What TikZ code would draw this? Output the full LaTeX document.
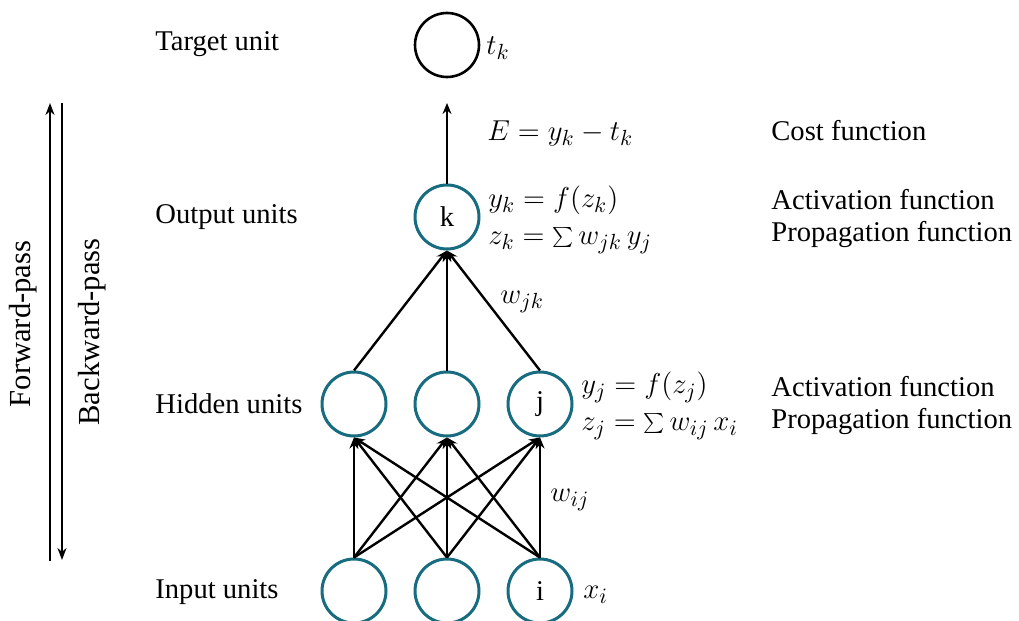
\documentclass[tikz,border=0pt]{standalone}
\usepackage{fontspec}
\setmainfont{Liberation Serif}
\usetikzlibrary{arrows.meta}
\definecolor{teal1}{RGB}{24,108,128}
\begin{document}
\begin{tikzpicture}[x=0.5pt,y=-0.5pt,
  font=\fontsize{14.3}{16}\selectfont,
  unit/.style={circle,draw=teal1,line width=1.5pt,minimum size=32pt,inner sep=0pt},
  target/.style={circle,draw=black,line width=1.3pt,minimum size=32pt,inner sep=0pt},
  conn/.style={line width=1.2pt,-{Stealth[length=5.5pt,width=4.5pt]}},
  pass/.style={line width=1.4pt,-{Stealth[length=6pt,width=4.5pt]}},
  lbl/.style={anchor=west,inner sep=0pt},
  mlbl/.style={anchor=west,inner sep=0pt,font=\fontsize{15}{17}\selectfont},
  mpair/.style={anchor=west,inner sep=0pt,align=left,font=\fontsize{15}{18.5}\selectfont}]
\useasboundingbox (0,0) rectangle (1019,621);
% nodes
\node[target] (t) at (447,45) {};
\node[unit] (k) at (447,217) {k};
\node[unit] (h1) at (354,404) {};
\node[unit] (h2) at (447,404) {};
\node[unit] (h3) at (540,404) {j};
\node[unit] (i1) at (354,591) {};
\node[unit] (i2) at (447,591) {};
\node[unit] (i3) at (540,591) {i};
\coordinate (ktip) at (447,103);
% connectors
\draw[conn] (k.north) -- (ktip);
\foreach \h in {h1,h2,h3}{\draw[conn] (\h.north) -- (k.south);}
\foreach \i in {i1,i2,i3}{\foreach \h in {h1,h2,h3}{\draw[conn] (\i.north) -- (\h.south);}}
% pass arrows
\coordinate (fa) at (50,561);
\coordinate (fb) at (50,103);
\coordinate (ba) at (62,103);
\coordinate (bb) at (62,560);
\draw[pass] (fa) -- (fb);
\draw[pass] (ba) -- (bb);
\node[rotate=90,font=\fontsize{15.3}{17}\selectfont] (fw) at (23,324) {Forward-pass};
\node[rotate=90,font=\fontsize{15.3}{17}\selectfont] (bw) at (92,332) {Backward-pass};
% left labels
\node[lbl] (lt) at (155,44) {Target unit};
\node[lbl] (lo) at (155,217) {Output units};
\node[lbl] (lh) at (155,404) {Hidden units};
\node[lbl] (li) at (155,592) {Input units};
% math labels
\node[mlbl] (mt) at (486,48) {$t_k$};
\node[mlbl] (me) at (487,133) {$E = y_k - t_k$};
\node[mpair] (mk) at (488,220) {$y_k = f(z_k)$\\$z_k = \textstyle\sum w_{jk}\,y_j$};
\node[mlbl] (mw1) at (500,302) {$w_{jk}$};
\node[mpair] (mj) at (581,406) {$y_j = f(z_j)$\\$z_j = \textstyle\sum w_{ij}\,x_i$};
\node[mlbl] (mw2) at (550,500) {$w_{ij}$};
\node[mlbl] (mx) at (583,595) {$x_i$};
% right labels
\node[lbl] (rc) at (771,131) {Cost function};
\node[lbl] (ra1) at (771,200) {Activation function};
\node[lbl] (rp1) at (771,235) {Propagation function};
\node[lbl] (ra2) at (771,387) {Activation function};
\node[lbl] (rp2) at (771,422) {Propagation function};
\end{tikzpicture}
\end{document}
